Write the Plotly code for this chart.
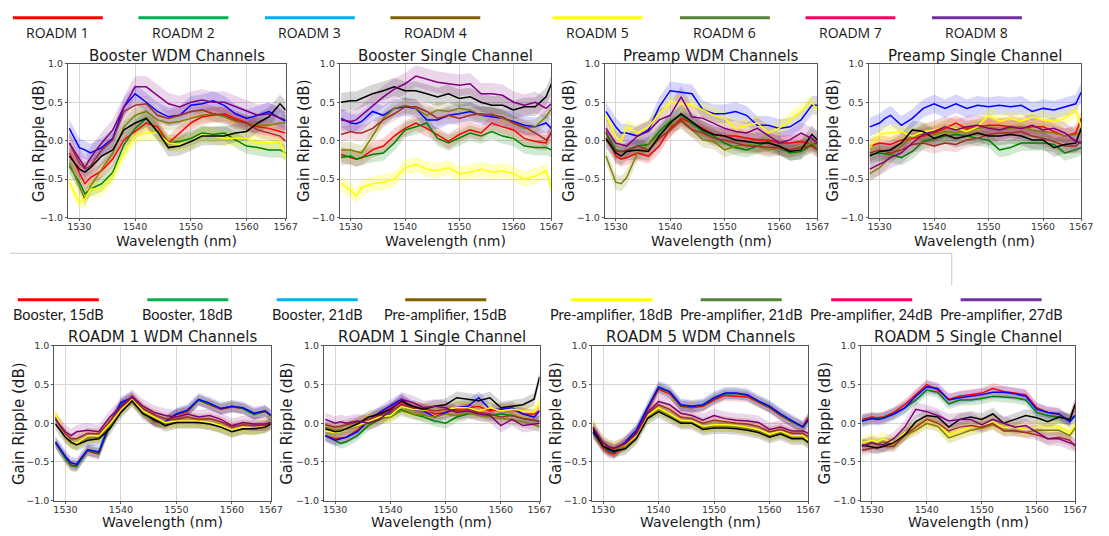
import plotly.graph_objects as go

# ---------------- data ----------------
WL = [1528.2, 1530, 1531, 1532, 1534, 1536, 1538, 1540, 1542, 1544, 1546,
      1548, 1550, 1552, 1554, 1556, 1558, 1560, 1562, 1564, 1566, 1567]

SERIES = ["red", "green", "blue", "olive", "yellow", "brown", "black", "purple"]

booster_wdm = {
    "red":    [-0.16,-0.41,-0.56,-0.48,-0.39,-0.24,0.01,0.12,0.23,0.18,-0.03,0.10,0.23,0.31,0.33,0.35,0.29,0.23,0.18,0.16,0.12,0.10],
    "green":  [-0.33,-0.54,-0.69,-0.63,-0.56,-0.41,-0.05,0.16,0.29,0.12,-0.03,-0.01,0.03,0.10,0.08,0.10,0.01,-0.07,-0.09,-0.12,-0.12,-0.16],
    "blue":   [0.16,-0.09,-0.12,-0.16,-0.09,0.03,0.44,0.61,0.50,0.38,0.31,0.33,0.46,0.48,0.52,0.46,0.35,0.29,0.33,0.38,0.29,0.25],
    "olive":  [-0.29,-0.59,-0.76,-0.59,-0.37,-0.16,0.18,0.33,0.38,0.27,0.23,0.25,0.29,0.33,0.35,0.31,0.25,0.23,0.20,0.20,0.23,0.23],
    "yellow": [-0.54,-0.80,-0.76,-0.63,-0.63,-0.46,-0.16,0.06,0.10,0.10,-0.03,-0.05,-0.01,0.08,0.06,0.03,0.03,0.03,-0.03,-0.03,-0.01,-0.22],
    "brown":  [-0.03,-0.29,-0.37,-0.33,-0.12,0.01,0.38,0.46,0.48,0.33,0.29,0.33,0.38,0.40,0.35,0.33,0.27,0.23,0.14,0.10,0.06,-0.01],
    "black":  [-0.20,-0.37,-0.41,-0.35,-0.20,-0.12,0.14,0.23,0.29,0.12,-0.09,-0.07,-0.01,0.06,0.06,0.06,0.10,0.12,0.23,0.31,0.48,0.40],
    "purple": [-0.03,-0.24,-0.35,-0.22,-0.03,0.14,0.44,0.70,0.70,0.59,0.48,0.44,0.50,0.53,0.50,0.50,0.44,0.38,0.33,0.35,0.29,0.27],
}
booster_single = {
    "red":    [-0.18,-0.22,-0.24,-0.22,-0.12,-0.07,0.06,0.16,0.23,0.16,0.08,-0.01,0.08,0.14,0.10,0.23,0.18,0.14,0.03,-0.01,-0.03,0.12],
    "green":  [-0.22,-0.20,-0.24,-0.22,-0.18,-0.16,-0.03,0.14,0.18,0.23,0.03,-0.03,0.03,0.10,0.06,0.12,0.06,0.03,-0.07,-0.09,-0.09,-0.12],
    "blue":   [0.29,0.23,0.22,0.25,0.38,0.33,0.42,0.44,0.42,0.27,0.27,0.33,0.35,0.38,0.33,0.31,0.29,0.25,0.20,0.18,0.23,0.16],
    "olive":  [-0.12,-0.12,-0.14,-0.16,0.06,0.29,0.42,0.46,0.42,0.33,0.40,0.38,0.42,0.40,0.33,0.35,0.29,0.23,0.16,0.18,0.31,0.42],
    "yellow": [-0.56,-0.65,-0.72,-0.61,-0.56,-0.54,-0.50,-0.35,-0.31,-0.37,-0.39,-0.35,-0.43,-0.41,-0.37,-0.41,-0.39,-0.43,-0.50,-0.46,-0.39,-0.63],
    "brown":  [0.08,0.12,0.10,0.10,0.16,0.27,0.35,0.44,0.44,0.38,0.29,0.33,0.29,0.33,0.35,0.33,0.31,0.23,0.18,0.10,0.01,0.10],
    "black":  [0.50,0.52,0.52,0.55,0.61,0.65,0.70,0.65,0.65,0.61,0.57,0.61,0.55,0.57,0.50,0.46,0.46,0.40,0.44,0.44,0.57,0.74],
    "purple": [0.27,0.25,0.27,0.33,0.46,0.57,0.67,0.74,0.84,0.80,0.76,0.74,0.72,0.74,0.61,0.61,0.59,0.50,0.46,0.50,0.42,0.48],
}
preamp_wdm = {
    "red":    [0.12,-0.20,-0.24,-0.22,-0.16,-0.20,-0.07,0.16,0.29,0.23,0.16,0.08,0.06,0.06,0.03,0.01,0.01,-0.03,-0.03,-0.01,-0.05,-0.03],
    "green":  [0.10,-0.12,-0.14,-0.14,-0.07,-0.05,0.12,0.25,0.33,0.23,0.12,0.06,-0.03,-0.09,-0.12,-0.07,-0.01,-0.09,-0.16,-0.14,-0.05,-0.12],
    "blue":   [0.38,0.18,0.10,0.10,0.06,0.14,0.44,0.65,0.63,0.61,0.40,0.35,0.35,0.38,0.33,0.20,0.20,0.16,0.18,0.27,0.46,0.46],
    "olive":  [-0.20,-0.54,-0.56,-0.48,-0.16,-0.05,0.08,0.20,0.25,0.14,0.01,-0.01,-0.12,-0.07,-0.05,-0.07,-0.12,-0.09,-0.12,-0.07,-0.03,-0.07],
    "yellow": [0.33,0.06,-0.01,0.18,0.10,0.18,0.35,0.50,0.48,0.46,0.40,0.33,0.29,0.16,0.20,0.23,0.10,0.16,0.27,0.38,0.50,0.40],
    "brown":  [0.01,-0.14,-0.14,-0.12,-0.07,-0.12,0.03,0.14,0.27,0.14,0.10,0.03,0.01,-0.03,-0.07,-0.07,-0.09,-0.09,-0.12,-0.09,-0.07,-0.12],
    "black":  [0.03,-0.16,-0.20,-0.14,-0.12,-0.14,0.06,0.23,0.35,0.25,0.14,0.08,0.06,0.01,-0.01,-0.03,-0.03,-0.07,-0.14,-0.12,0.08,0.01],
    "purple": [0.16,-0.03,-0.05,-0.07,0.06,0.12,0.27,0.33,0.57,0.31,0.29,0.23,0.16,0.12,0.10,0.16,0.06,-0.03,0.01,0.10,0.03,-0.03],
}
preamp_single = {
    "red":    [-0.07,-0.03,-0.04,-0.05,0.01,0.03,0.06,0.10,0.16,0.23,0.16,0.18,0.20,0.20,0.18,0.16,0.18,0.18,0.12,0.06,0.10,0.29],
    "green":  [-0.18,-0.16,-0.17,-0.18,-0.22,-0.14,-0.01,0.03,0.06,0.08,0.06,0.03,0.01,-0.12,-0.09,-0.03,-0.03,-0.03,-0.05,-0.16,-0.12,-0.09],
    "blue":   [0.18,0.23,0.29,0.33,0.20,0.29,0.42,0.48,0.42,0.48,0.42,0.46,0.44,0.46,0.44,0.46,0.38,0.42,0.40,0.44,0.48,0.63],
    "olive":  [-0.43,-0.35,-0.28,-0.20,-0.07,0.06,0.08,0.08,0.12,0.10,0.14,0.16,0.18,0.14,0.16,0.18,0.14,0.12,0.10,0.06,0.08,0.10],
    "yellow": [-0.09,0.08,0.10,0.10,0.12,0.06,0.12,0.14,0.18,0.16,0.12,0.18,0.33,0.25,0.29,0.25,0.31,0.27,0.25,0.29,0.40,0.18],
    "brown":  [-0.16,-0.12,-0.14,-0.16,-0.12,-0.05,-0.03,-0.07,-0.03,-0.05,0.01,0.03,0.08,0.10,0.10,0.12,0.06,0.03,-0.01,-0.07,-0.07,-0.01],
    "black":  [-0.20,-0.14,-0.13,-0.12,-0.03,0.14,0.12,0.03,0.08,0.03,0.06,0.10,0.06,0.06,0.08,0.06,0.01,0.01,-0.09,-0.05,-0.03,0.16],
    "purple": [-0.37,-0.31,-0.27,-0.22,-0.16,-0.03,0.08,0.12,0.18,0.14,0.18,0.20,0.16,0.14,0.18,0.16,0.20,0.14,0.16,0.10,-0.01,-0.03],
}
roadm1_wdm = {
    "red":    [-0.26,-0.45,-0.54,-0.55,-0.36,-0.40,-0.02,0.25,0.32,0.15,0.02,0.00,0.11,0.15,0.30,0.24,0.18,0.21,0.19,0.12,0.15,0.11],
    "green":  [-0.25,-0.46,-0.55,-0.56,-0.35,-0.39,-0.03,0.24,0.31,0.15,0.03,0.01,0.12,0.16,0.30,0.25,0.19,0.22,0.19,0.11,0.16,0.09],
    "blue":   [-0.24,-0.43,-0.51,-0.53,-0.34,-0.37,0.00,0.27,0.33,0.16,0.04,0.02,0.12,0.17,0.31,0.26,0.19,0.22,0.20,0.13,0.16,0.10],
    "olive":  [0.08,-0.18,-0.26,-0.27,-0.19,-0.18,-0.03,0.16,0.29,0.14,0.06,0.00,0.01,0.02,0.01,-0.01,-0.05,-0.10,-0.07,-0.08,-0.05,0.00],
    "yellow": [0.12,-0.16,-0.24,-0.26,-0.16,-0.16,-0.01,0.18,0.31,0.16,0.08,0.01,0.03,0.03,0.03,0.01,-0.03,-0.09,-0.05,-0.07,-0.03,0.01],
    "brown":  [0.06,-0.14,-0.20,-0.20,-0.13,-0.14,0.03,0.20,0.33,0.19,0.11,0.06,0.05,0.08,0.05,0.06,0.02,-0.05,-0.02,-0.03,-0.03,0.01],
    "black":  [-0.01,-0.18,-0.24,-0.28,-0.22,-0.20,-0.07,0.14,0.29,0.12,0.05,-0.03,0.01,0.01,0.01,-0.01,-0.05,-0.11,-0.07,-0.07,-0.05,-0.01],
    "purple": [0.05,-0.11,-0.16,-0.11,-0.09,-0.11,0.08,0.22,0.35,0.22,0.14,0.10,0.08,0.12,0.08,0.10,0.05,-0.03,0.01,-0.01,-0.01,0.01],
}
roadm1_single = {
    "red":    [-0.16,-0.20,-0.19,-0.18,-0.09,0.03,0.12,0.20,0.27,0.20,0.18,0.12,0.14,0.18,0.20,0.22,0.16,0.18,0.18,0.12,0.12,0.16],
    "green":  [-0.16,-0.22,-0.26,-0.24,-0.16,-0.03,0.05,0.12,0.18,0.12,0.08,0.03,0.00,0.08,0.12,0.14,0.10,0.12,0.10,0.06,0.04,0.02],
    "blue":   [-0.16,-0.22,-0.20,-0.18,-0.11,0.03,0.14,0.22,0.31,0.18,0.16,0.08,0.14,0.20,0.22,0.33,0.18,0.18,0.20,0.12,0.08,0.16],
    "olive":  [-0.05,-0.09,-0.08,-0.07,-0.03,0.00,0.06,0.08,0.16,0.12,0.10,0.08,0.12,0.10,0.14,0.10,0.08,0.06,0.05,0.02,-0.02,-0.05],
    "yellow": [-0.10,-0.12,-0.10,-0.06,-0.03,0.02,0.08,0.10,0.22,0.18,0.17,0.16,0.18,0.20,0.20,0.16,0.20,0.16,0.18,0.16,0.14,0.27],
    "brown":  [-0.02,-0.05,-0.04,-0.02,0.02,0.05,0.10,0.14,0.24,0.20,0.18,0.16,0.18,0.16,0.18,0.14,0.12,0.08,0.10,0.06,0.04,0.03],
    "black":  [-0.07,-0.11,-0.10,-0.07,-0.01,0.08,0.12,0.18,0.29,0.22,0.18,0.22,0.24,0.33,0.31,0.29,0.33,0.20,0.22,0.24,0.31,0.60],
    "purple": [0.05,0.00,0.02,0.00,0.03,0.00,0.05,0.16,0.31,0.27,0.20,0.22,0.20,0.14,0.16,0.12,0.10,-0.03,0.05,-0.03,-0.01,0.00],
}
roadm5_wdm = {
    "red":    [-0.13,-0.32,-0.38,-0.40,-0.26,-0.11,0.17,0.44,0.38,0.22,0.20,0.22,0.30,0.36,0.35,0.34,0.27,0.20,0.10,0.02,-0.04,0.08],
    "green":  [-0.12,-0.30,-0.36,-0.38,-0.25,-0.10,0.19,0.46,0.40,0.23,0.22,0.23,0.32,0.38,0.38,0.36,0.28,0.21,0.11,0.02,-0.05,0.04],
    "blue":   [-0.11,-0.28,-0.34,-0.37,-0.24,-0.09,0.20,0.47,0.41,0.24,0.22,0.24,0.33,0.39,0.39,0.37,0.29,0.22,0.12,0.03,-0.05,0.05],
    "olive":  [-0.06,-0.28,-0.31,-0.34,-0.30,-0.18,0.08,0.18,0.10,0.02,0.01,-0.06,-0.04,-0.04,-0.05,-0.07,-0.10,-0.16,-0.12,-0.18,-0.18,-0.24],
    "yellow": [-0.04,-0.26,-0.30,-0.32,-0.28,-0.16,0.10,0.20,0.12,0.04,0.03,-0.04,-0.02,-0.02,-0.03,-0.05,-0.08,-0.14,-0.10,-0.16,-0.16,-0.22],
    "brown":  [-0.05,-0.26,-0.31,-0.33,-0.27,-0.14,0.12,0.24,0.18,0.08,0.06,0.00,0.04,0.02,0.00,-0.01,-0.04,-0.11,-0.08,-0.13,-0.13,-0.17],
    "black":  [-0.08,-0.30,-0.33,-0.36,-0.33,-0.20,0.06,0.15,0.08,0.00,0.00,-0.08,-0.06,-0.06,-0.07,-0.09,-0.12,-0.18,-0.14,-0.20,-0.20,-0.25],
    "purple": [-0.05,-0.25,-0.30,-0.32,-0.26,-0.12,0.14,0.28,0.24,0.13,0.10,0.04,0.10,0.06,0.04,0.03,0.01,-0.08,-0.05,-0.10,-0.10,-0.13],
}
roadm5_single = {
    "red":    [0.05,0.08,0.07,0.08,0.14,0.24,0.37,0.50,0.43,0.31,0.35,0.37,0.39,0.45,0.41,0.39,0.37,0.20,0.14,0.12,0.03,0.24],
    "green":  [0.03,0.06,0.06,0.07,0.12,0.20,0.30,0.43,0.40,0.25,0.30,0.30,0.32,0.35,0.34,0.33,0.30,0.14,0.10,0.08,0.05,0.10],
    "blue":   [0.03,0.06,0.05,0.06,0.12,0.20,0.35,0.47,0.45,0.30,0.33,0.35,0.37,0.40,0.40,0.38,0.35,0.18,0.14,0.12,0.02,0.10],
    "olive":  [-0.29,-0.26,-0.28,-0.24,-0.29,-0.16,-0.09,0.00,-0.04,-0.19,-0.14,-0.09,-0.06,-0.02,-0.09,-0.09,-0.12,-0.09,-0.09,-0.09,-0.16,-0.06],
    "yellow": [-0.25,-0.22,-0.24,-0.20,-0.25,-0.12,-0.05,0.04,0.00,-0.15,-0.10,-0.05,-0.02,0.02,-0.05,-0.05,-0.08,-0.05,-0.05,-0.05,-0.12,-0.02],
    "brown":  [-0.35,-0.32,-0.31,-0.30,-0.30,-0.15,-0.05,0.05,0.00,-0.10,-0.05,-0.03,-0.05,0.00,-0.10,-0.10,-0.12,-0.15,-0.20,-0.18,-0.22,-0.30],
    "black":  [-0.28,-0.30,-0.32,-0.30,-0.25,-0.15,0.02,0.10,0.08,-0.05,0.05,0.08,0.05,0.12,0.00,0.05,0.10,0.07,0.02,0.08,0.05,0.25],
    "purple": [-0.30,-0.25,-0.27,-0.28,-0.20,-0.05,0.18,0.15,0.10,0.03,0.05,0.05,-0.02,0.05,0.00,-0.05,-0.03,-0.12,-0.20,-0.20,-0.25,-0.28],
}

# half-width of the shaded spread band of each series (dB)
spread_top = [0.10, 0.10, 0.12, 0.10, 0.10, 0.10, 0.12, 0.14]
spread_bottom = [0.07, 0.07, 0.08, 0.07, 0.09, 0.07, 0.08, 0.09]

PANELS = [booster_wdm, booster_single, preamp_wdm, preamp_single,
          roadm1_wdm, roadm1_single, roadm5_wdm, roadm5_single]
TITLES = ["Booster WDM Channels", "Booster Single Channel", "Preamp WDM Channels",
          "Preamp Single Channel", "ROADM 1 WDM Channels", "ROADM 1 Single Channel",
          "ROADM 5 WDM Channels", "ROADM 5 Single Channel"]

TOP_LEGEND = ["ROADM 1", "ROADM 2", "ROADM 3", "ROADM 4",
              "ROADM 5", "ROADM 6", "ROADM 7", "ROADM 8"]
BOTTOM_LEGEND = ["Booster, 15dB", "Booster, 18dB", "Booster, 21dB", "Pre-amplifier, 15dB",
                 "Pre-amplifier, 18dB", "Pre-amplifier, 21dB", "Pre-amplifier, 24dB",
                 "Pre-amplifier, 27dB"]
LEGEND_COLORS = ["#ff0000", "#00b050", "#00b0f0", "#7f6000",
                 "#ffff00", "#548235", "#ff0066", "#7030a0"]

XTICKS = [1530, 1540, 1550, 1560, 1567]
YTICKS = [-1.0, -0.5, 0.0, 0.5, 1.0]

# ---------------- style / layout ----------------
LINE_COLORS = {"red": "#ff0000", "green": "#008000", "blue": "#0000ff", "olive": "#808000",
               "yellow": "#ffff00", "brown": "#a52a2a", "black": "#000000", "purple": "#800080"}
FILL_COLORS = {"red": "rgba(255,0,0,0.18)", "green": "rgba(0,128,0,0.18)",
               "blue": "rgba(0,0,255,0.16)", "olive": "rgba(128,128,0,0.18)",
               "yellow": "rgba(255,255,0,0.25)", "brown": "rgba(165,42,42,0.16)",
               "black": "rgba(0,0,0,0.16)", "purple": "rgba(128,0,128,0.16)"}

W, H = 1109, 536
# plot-area boxes in pixels (left, right, top, bottom)
BOXES = [(68, 288, 59, 216), (343, 557, 59, 216), (611, 826, 59, 216), (878, 1093, 59, 216),
         (54, 273, 347, 505), (327, 545, 347, 505), (598, 817, 347, 505), (870, 1087, 347, 505)]
YTITLE_X = [38, 306, 574, 842, 18, 290, 562, 834]
TOP_LEG_X = [12, 139, 267, 394, 558, 687, 814, 942]
BOT_LEG_X = [17, 148, 279, 409, 577, 708, 840, 971]

def px(x):
    return x / W

def py(y):
    return 1 - y / H

fig = go.Figure()
layout = {}
annotations = []
shapes = []

TICKFONT = dict(family="DejaVu Sans", size=9.5, color="#333333")

for k, (panel, title, box) in enumerate(zip(PANELS, TITLES, BOXES)):
    sfx = "" if k == 0 else str(k + 1)
    xa, ya = "x" + sfx, "y" + sfx
    spreads = spread_top if k < 4 else spread_bottom
    for name, sp in zip(SERIES, spreads):
        vals = panel[name]
        upper = [v + sp for v in vals]
        lower = [v - sp for v in vals]
        fig.add_trace(go.Scatter(
            x=WL + WL[::-1], y=upper + lower[::-1], fill="toself",
            fillcolor=FILL_COLORS[name], line=dict(width=0), mode="lines",
            hoverinfo="skip", showlegend=False, xaxis=xa, yaxis=ya))
    for name in SERIES:
        fig.add_trace(go.Scatter(
            x=WL, y=panel[name], mode="lines",
            line=dict(color=LINE_COLORS[name], width=1.5),
            showlegend=False, xaxis=xa, yaxis=ya, name=name))
    l, r, t, b = box
    layout["xaxis" + sfx] = dict(
        domain=[px(l), px(r)], anchor=ya, range=[1528, 1567],
        tickvals=XTICKS, ticktext=[str(v) for v in XTICKS],
        showgrid=True, gridcolor="#d6d6d6", gridwidth=1,
        showline=True, linecolor="#555555", linewidth=1.3, mirror=True,
        ticks="outside", ticklen=2, tickcolor="#555555",
        ticklabelstandoff=-2, tickfont=TICKFONT, zeroline=False)
    layout["yaxis" + sfx] = dict(
        domain=[py(b), py(t)], anchor=xa, range=[-1, 1],
        tickvals=YTICKS, tickformat=".1f",
        showgrid=True, gridcolor="#d6d6d6", gridwidth=1,
        showline=True, linecolor="#555555", linewidth=1.3, mirror=True,
        ticks="outside", ticklen=2, tickcolor="#555555",
        tickfont=TICKFONT, zeroline=False)
    title_y = 51 if k < 4 else 338
    xt_y = 240 if k < 4 else 527
    annotations.append(dict(text=title, x=px((l + r) / 2), y=py(title_y), xref="paper", yref="paper",
                            showarrow=False, xanchor="center", yanchor="middle",
                            font=dict(family="DejaVu Sans", size=15, color="#1a1a1a")))
    annotations.append(dict(text="Wavelength (nm)", x=px((l + r) / 2), y=py(xt_y), xref="paper",
                            yref="paper", showarrow=False, xanchor="center", yanchor="middle",
                            font=dict(family="DejaVu Sans", size=14, color="#1a1a1a")))
    annotations.append(dict(text="Gain Ripple (dB)", x=px(YTITLE_X[k]), y=py((t + b) / 2), xref="paper",
                            yref="paper", showarrow=False, xanchor="center", yanchor="middle",
                            textangle=-90,
                            font=dict(family="DejaVu Sans", size=15, color="#1a1a1a")))

# legends drawn as colour bars with captions
for i in range(8):
    x0 = TOP_LEG_X[i]
    shapes.append(dict(type="line", xref="paper", yref="paper", x0=px(x0), x1=px(x0 + 91),
                       y0=py(12), y1=py(12), line=dict(color=LEGEND_COLORS[i], width=3)))
    annotations.append(dict(text=TOP_LEGEND[i], x=px(x0 + 45.5), y=py(27), xref="paper", yref="paper",
                            showarrow=False, xanchor="center", yanchor="middle",
                            font=dict(family="Open Sans", size=14, color="#1a1a1a")))
    x1 = BOT_LEG_X[i]
    shapes.append(dict(type="line", xref="paper", yref="paper", x0=px(x1), x1=px(x1 + 82),
                       y0=py(300), y1=py(300), line=dict(color=LEGEND_COLORS[i], width=3)))
    annotations.append(dict(text=BOTTOM_LEGEND[i], x=px(x1 + 41), y=py(315), xref="paper",
                            yref="paper", showarrow=False, xanchor="center", yanchor="middle",
                            font=dict(family="Lato", size=14.5, color="#1a1a1a")))

# separator lines between the two figure rows
shapes.append(dict(type="line", xref="paper", yref="paper", x0=px(9), x1=px(962),
                   y0=py(252.5), y1=py(252.5), line=dict(color="#c8c8c8", width=1)))
shapes.append(dict(type="line", xref="paper", yref="paper", x0=px(962), x1=px(962),
                   y0=py(252.5), y1=py(285), line=dict(color="#c8c8c8", width=1)))

fig.update_layout(
    width=W, height=H, margin=dict(l=0, r=0, t=0, b=0),
    paper_bgcolor="white", plot_bgcolor="white", showlegend=False,
    annotations=annotations, shapes=shapes, **layout)

fig.write_html("out.html")
